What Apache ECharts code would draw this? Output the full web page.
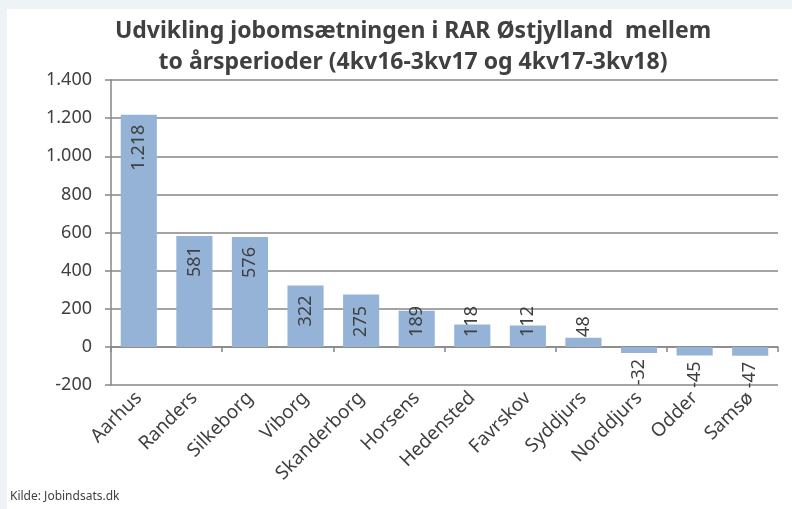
<!DOCTYPE html>
<html><head><meta charset="utf-8">
<script src="https://cdn.jsdelivr.net/npm/echarts@6/dist/echarts.min.js"></script>
<style>html,body{margin:0;padding:0;background:#eef4f5;}#c{width:792px;height:509px;}</style>
</head><body><div id="c"></div>
<script>
const categories = ['Aarhus','Randers','Silkeborg','Viborg','Skanderborg','Horsens','Hedensted','Favrskov','Syddjurs','Norddjurs','Odder','Samsø'];
const values = [1218, 581, 576, 322, 275, 189, 118, 112, 48, -32, -45, -47];
const titleLines = ['Udvikling jobomsætningen i RAR Østjylland  mellem', 'to årsperioder (4kv16-3kv17 og 4kv17-3kv18)'];
const sourceText = 'Kilde: Jobindsats.dk';

function dk(v){ const s = Math.abs(v).toString().replace(/\B(?=(\d{3})+(?!\d))/g,'.'); return (v<0?'-':'')+s; }
const FONT = '"Noto Sans", sans-serif';
const chart = echarts.init(document.getElementById('c'), null, {renderer:'canvas'});
const dataItems = values.map(v => {
  if (v >= 300) return {value:v, label:{position:'insideTop', rotate:90, align:'right', verticalAlign:'middle', distance:10}};
  if (v >= 0) return {value:v, label:{position:'insideBottom', rotate:90, align:'left', verticalAlign:'middle', distance:10}};
  return {value:v, label:{position:'bottom', rotate:90, align:'right', verticalAlign:'middle', distance:6}};
});
chart.setOption({
  backgroundColor:'#eef4f5',
  graphic:[
    {type:'rect', shape:{x:7,y:9,width:785,height:500}, style:{fill:'#ffffff'}, z:-10, silent:true},
    {type:'text', style:{x:413, y:16, text:titleLines.join('\n'), font:'bold 23px '+FONT, fill:'#404040', align:'center', verticalAlign:'top', lineHeight:31}},
    {type:'text', style:{x:10, y:497, text:sourceText, font:'12px '+FONT, fill:'#404040', verticalAlign:'middle'}}
  ],
  grid:{left:111, right:14, top:80, bottom:124, containLabel:false},
  xAxis:[
    {type:'category', data:categories, position:'bottom', axisLine:{show:false, onZero:false}, axisTick:{show:false},
     axisLabel:{rotate:45, interval:0, margin:10, color:'#404040', fontSize:19, fontFamily:FONT}},
    {type:'category', data:categories, position:'bottom', axisLine:{show:true, onZero:true, lineStyle:{color:'#868686', width:1.5}},
     axisTick:{show:true, length:5, alignWithLabel:false, lineStyle:{color:'#868686', width:1.5}}, axisLabel:{show:false}}
  ],
  yAxis:{type:'value', min:-200, max:1400, interval:200,
    axisLine:{show:true, lineStyle:{color:'#868686', width:1.5}}, axisTick:{show:true, length:6, lineStyle:{color:'#868686', width:1.5}},
    splitLine:{show:true, lineStyle:{color:'#868686', width:1.5}},
    axisLabel:{color:'#404040', fontSize:18, fontFamily:FONT, margin:19, formatter:dk}},
  series:[{type:'bar', xAxisIndex:0, data:dataItems, barCategoryGap:'35%', itemStyle:{color:'#95b3d7'},
    label:{show:true, color:'#404040', fontSize:18, fontFamily:FONT, formatter:p=>dk(p.value)}}]
});
</script></body></html>
